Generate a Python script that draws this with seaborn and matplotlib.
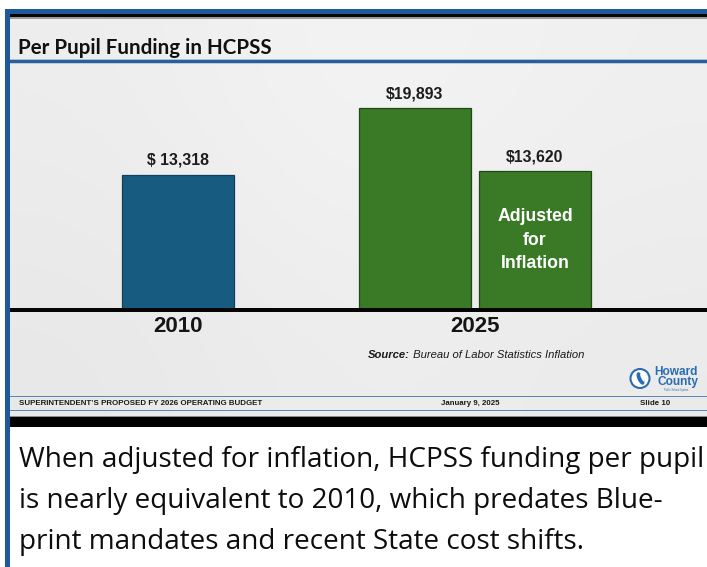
import numpy as np
import pandas as pd
import matplotlib
matplotlib.use("Agg")
import matplotlib.pyplot as plt
from matplotlib.patches import Rectangle, Circle, Ellipse
from matplotlib import font_manager as fm
import seaborn as sns

# ---------------- data ----------------
years_2010 = ["2010"]
values_2010 = [13318]
years_2025 = ["2025", "2025"]
kinds_2025 = ["Actual", "Adjusted for Inflation"]
values_2025 = [19893, 13620]
labels_2010 = ["$ 13,318"]
labels_2025 = ["$19,893", "$13,620"]
inside_text = "Adjusted\nfor\nInflation"
title_text = "Per Pupil Funding in HCPSS"
source_bold = "Source:"
source_rest = " Bureau of Labor Statistics Inflation"
footer_left = "SUPERINTENDENT\u2019S PROPOSED FY 2026 OPERATING BUDGET"
footer_mid = "January 9, 2025"
footer_right = "Slide 10"
logo_text = "Howard\nCounty"
logo_small = "Public School System"
caption_lines = [
    "When adjusted for inflation, HCPSS funding per pupil",
    "is nearly equivalent to 2010, which predates Blue-",
    "print mandates and recent State cost shifts.",
]

# ---------------- style ----------------
sns.set_theme(style="white")
names = {f.name for f in fm.fontManager.ttflist}
SANS = "Liberation Sans" if "Liberation Sans" in names else "DejaVu Sans"
NARROW = "Liberation Sans Narrow" if "Liberation Sans Narrow" in names else SANS
TITLEF = "Lato" if "Lato" in names else SANS
CAPF = "Open Sans" if "Open Sans" in names else SANS
plt.rcParams["font.family"] = [SANS, "DejaVu Sans"]

BLUE_BAR = "#185b80"
GREEN_BAR = "#3a7a27"
FRAME = "#1c5a9c"
W, H = 707, 567

fig = plt.figure(figsize=(7.07, 5.67), dpi=100, facecolor="white")

# background / decoration axes in pixel coordinates
bg = fig.add_axes([0, 0, 1, 1], zorder=-5)
bg.axis("off")

grad = np.array([
    [[0.93, 0.93, 0.93], [0.96, 0.96, 0.96], [0.94, 0.94, 0.94]],
    [[0.92, 0.92, 0.92], [0.95, 0.95, 0.95], [0.93, 0.93, 0.93]],
    [[0.91, 0.91, 0.91], [0.935, 0.935, 0.935], [0.92, 0.92, 0.92]],
])
bg.imshow(grad, extent=(10, W, 416, 17), aspect="auto", interpolation="bicubic", zorder=0)
bg.set_xlim(0, W)
bg.set_ylim(H, 0)

def rect(x0, y0, x1, y1, color, z=1):
    bg.add_patch(Rectangle((x0, y0), x1 - x0, y1 - y0, facecolor=color, edgecolor="none", zorder=z))

rect(5, 9, W, 14, FRAME, 2)            # top blue band
rect(10, 14, W, 17.3, "#050505", 2)    # black band
rect(10, 17.3, W, 18.7, "#9a9a9a", 2)
rect(5, 9, 10, H, FRAME, 3)            # left frame
rect(10, 59.3, W, 60.3, "#a8c0dc", 2)  # title separator
rect(10, 60.3, W, 63.3, "#2b5f98", 2)
rect(10, 63.3, W, 64.2, "#b8cde4", 2)
rect(10, 396, W, 397.2, "#5a86b8", 2)  # footer lines
rect(10, 409.6, W, 410.8, "#5a86b8", 2)
rect(10, 415.8, W, 417.2, "#8c8c8c", 2)
rect(10, 417.2, W, 427.3, "#000000", 2)

# ---------------- bars ----------------
base_y = 309.0
ax_h = 210.0
ymax = 20800

def px_axes(x0, x1):
    return fig.add_axes([x0 / W, (H - base_y) / H, (x1 - x0) / W, ax_h / H])

axA = px_axes(108, 248)
dfA = pd.DataFrame({"year": years_2010, "value": values_2010})
sns.barplot(data=dfA, x="year", y="value", color=BLUE_BAR, saturation=1, width=0.8,
            errorbar=None, edgecolor="#0f3f5a", linewidth=0.9, ax=axA)

axB = px_axes(325, 625)
dfB = pd.DataFrame({"year": years_2025, "kind": kinds_2025, "value": values_2025})
sns.barplot(data=dfB, x="year", y="value", hue="kind", hue_order=kinds_2025,
            palette=[GREEN_BAR, GREEN_BAR], saturation=1, width=0.8, gap=0.067,
            dodge=True, errorbar=None, edgecolor="#1f4a16", linewidth=0.9,
            legend=False, ax=axB)

for ax in (axA, axB):
    ax.set_ylim(0, ymax)
    ax.set_yticks([])
    ax.set_xlabel("")
    ax.set_ylabel("")
    for s in ax.spines.values():
        s.set_visible(False)
    ax.patch.set_alpha(0)
    ax.tick_params(axis="x", length=0, pad=5.2)
    for lbl in ax.get_xticklabels():
        lbl.set_fontsize(16)
        lbl.set_fontweight("bold")
        lbl.set_family(SANS)
        lbl.set_color("#151515")

axA.bar_label(axA.containers[0], labels=labels_2010, padding=5,
              fontsize=11.4, fontweight="bold", color="#1c1c1c", family=SANS)
for cont, lab in zip(axB.containers, labels_2025):
    axB.bar_label(cont, labels=[lab], padding=5,
                  fontsize=11.4, fontweight="bold", color="#1c1c1c", family=SANS)

adj_patch = axB.containers[1][0]
cx = adj_patch.get_x() + adj_patch.get_width() / 2
axB.text(cx, adj_patch.get_height() / 2, inside_text, ha="center", va="center",
         color="white", fontsize=12.7, fontweight="bold", family=SANS, linespacing=1.5)

# ---------------- overlay texts ----------------
ov = fig.add_axes([0, 0, 1, 1], zorder=10)
ov.set_xlim(0, W)
ov.set_ylim(H, 0)
ov.axis("off")
ov.patch.set_alpha(0)

ov.add_patch(Rectangle((10, 308.2), W - 10, 3.5, facecolor="#050505", edgecolor="none"))

ov.text(18, 54, title_text, fontsize=14.8, fontweight="bold", family=TITLEF,
        color="#111111", va="baseline", ha="left")

t1 = ov.text(368, 360, source_bold, fontsize=8.1, fontweight="bold", style="italic",
             family=NARROW, color="#1a1a1a", va="bottom", ha="left")
ov.annotate(source_rest, xy=(1, 0), xycoords=t1, fontsize=8.1, style="italic",
            family=NARROW, color="#1a1a1a", va="bottom", ha="left")

ov.text(19, 403.6, footer_left, fontsize=5.7, fontweight="bold", family=SANS,
        color="#1a1a1a", va="center", ha="left")
ov.text(470, 403.6, footer_mid, fontsize=5.7, fontweight="bold", family=SANS,
        color="#1a1a1a", va="center", ha="center")
ov.text(655, 403.6, footer_right, fontsize=5.7, fontweight="bold", family=SANS,
        color="#1a1a1a", va="center", ha="center")

# logo
LOGO = "#2a6cb4"
ov.add_patch(Circle((640, 378.5), 9.5, facecolor="white", edgecolor=LOGO, linewidth=1.5))
ov.add_patch(Ellipse((640.5, 378.5), 6.0, 13.5, angle=-25, facecolor=LOGO, edgecolor="none"))
ov.add_patch(Ellipse((642.4, 377.5), 2.6, 9.0, angle=-25, facecolor="white", edgecolor="none"))
ov.text(698, 385.5, logo_text, fontsize=8.6, fontweight="bold", family=SANS, color=LOGO,
        ha="right", va="baseline", multialignment="right", linespacing=0.78)
ov.text(676, 390.2, logo_small, fontsize=1.8, family=SANS, color=LOGO,
        ha="center", va="center")

# caption
for i, line in enumerate(caption_lines):
    ov.text(19, 467 + 41 * i, line, fontsize=20.1, family=CAPF, color="#0d0d0d",
            ha="left", va="baseline")

fig.savefig("out.png", dpi=100, facecolor="white")
